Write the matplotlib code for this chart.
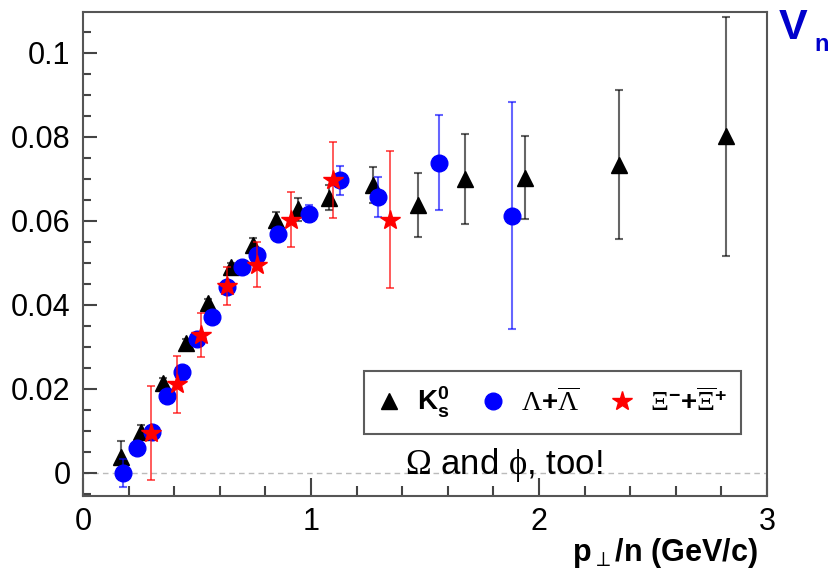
import matplotlib
matplotlib.use("Agg")
import matplotlib.pyplot as plt
from matplotlib.lines import Line2D
from matplotlib.ticker import MultipleLocator

plt.rcParams['font.family'] = ['Liberation Sans', 'DejaVu Sans']
plt.rcParams['mathtext.fontset'] = 'custom'
plt.rcParams['mathtext.rm'] = 'Liberation Serif'
plt.rcParams['mathtext.it'] = 'Liberation Serif:italic'
plt.rcParams['mathtext.bf'] = 'Liberation Sans:bold'
plt.rcParams['mathtext.sf'] = 'Liberation Sans'

# K0s
k_x = [0.165, 0.254, 0.352, 0.452, 0.548, 0.648, 0.744, 0.846, 0.944, 1.08, 1.271, 1.47, 1.677, 1.94, 2.35, 2.822]
k_y = [0.0037, 0.0097, 0.0215, 0.0308, 0.0405, 0.0489, 0.0542, 0.0603, 0.0627, 0.0655, 0.0685, 0.0637, 0.0699, 0.0703, 0.0734, 0.0801]
k_err = [0.004, 0.0018, 0.0012, 0.001, 0.001, 0.001, 0.0016, 0.0019, 0.0027, 0.003, 0.0042, 0.0076, 0.0107, 0.0098, 0.0178, 0.0284]

# Lambda + anti-Lambda
l_x = [0.177, 0.238, 0.301, 0.367, 0.433, 0.499, 0.564, 0.63, 0.699, 0.765, 0.857, 0.991, 1.127, 1.296, 1.563, 1.883]
l_y = [0.0, 0.0059, 0.0097, 0.0184, 0.0241, 0.0318, 0.037, 0.0443, 0.0489, 0.0519, 0.0568, 0.0617, 0.0696, 0.0657, 0.0738, 0.0612]
l_err = [0.0034, 0.001, 0.001, 0.001, 0.001, 0.001, 0.001, 0.001, 0.001, 0.001, 0.001, 0.002, 0.0035, 0.0048, 0.0113, 0.027]

# Xi
x_x = [0.298, 0.414, 0.516, 0.630, 0.765, 0.912, 1.098, 1.348]
x_y = [0.0094, 0.0211, 0.0328, 0.0445, 0.0496, 0.0603, 0.0697, 0.0603]
x_err = [0.0112, 0.0068, 0.0053, 0.0045, 0.0053, 0.0066, 0.009, 0.0163]

fig = plt.figure(figsize=(8.29, 5.81), dpi=100)
ax = fig.add_axes([0.1001, 0.1463, 0.8251, 0.833])

ax.axhline(0, color='#bbbbbb', lw=1, ls=(0, (4, 3)), zorder=0)

ax.errorbar(k_x, k_y, yerr=k_err, fmt='^', color='black', ms=11, mec='black',
            ecolor=(0, 0, 0, 0.6), elinewidth=1.5, capsize=3, capthick=1.5, zorder=3)
ax.errorbar(l_x, l_y, yerr=l_err, fmt='o', color='#0000ff', ms=12, mec='#0000ff',
            ecolor=(0, 0, 1, 0.6), elinewidth=1.5, capsize=3, capthick=1.5, zorder=4)
ax.errorbar(x_x, x_y, yerr=x_err, fmt='*', color='#ff0000', ms=15, mec='#ff0000',
            ecolor=(1, 0, 0, 0.75), elinewidth=1.2, capsize=3, capthick=1.2, zorder=5)

ax.set_xlim(0, 3)
ax.set_ylim(-0.0055, 0.1097)
ax.xaxis.set_minor_locator(MultipleLocator(0.2))
ax.yaxis.set_minor_locator(MultipleLocator(0.005))
ax.set_yticks([0, 0.02, 0.04, 0.06, 0.08, 0.1])
ax.set_yticklabels(['0', '0.02', '0.04', '0.06', '0.08', '0.1'])
ax.set_xticks([0, 1, 2, 3])
ax.set_xticklabels(['0', '1', '2', '3'])
ax.tick_params(which='both', direction='in', top=False, right=False,
               color='#444444', width=1.5, labelsize=22)
ax.tick_params(axis='y', which='major', length=10, pad=9)
ax.tick_params(axis='y', which='minor', length=6)
ax.tick_params(axis='x', which='major', length=13, pad=8)
ax.tick_params(axis='x', which='minor', length=7)
for s in ax.spines.values():
    s.set_color('#555555')
    s.set_linewidth(1.5)

ax.set_xlabel(r'p$_{\perp}$/n (GeV/c)', fontsize=22, fontweight='bold',
              loc='right', math_fontfamily='dejavusans')
ax.xaxis.set_label_coords(0.987, -0.083)
ax.xaxis.label.set_verticalalignment('top')

handles = [
    Line2D([], [], marker='^', ls='none', color='black', ms=11),
    Line2D([], [], marker='o', ls='none', color='#0000ff', ms=12),
    Line2D([], [], marker='*', ls='none', color='#ff0000', ms=15),
]
labels = [r'$\mathbf{K^0_s}$', r'$\mathrm{\Lambda}\mathbf{+}\overline{\mathrm{\Lambda}}$',
          r'$\mathrm{\Xi}^{\mathbf{-}}\mathbf{+}\overline{\mathrm{\Xi}}^{\mathbf{+}}$']
leg = ax.legend(handles, labels, ncol=3, loc='lower left',
                bbox_to_anchor=(0.411, 0.128, 0.551, 0.124), mode='expand',
                fontsize=20, frameon=True, fancybox=False, edgecolor='#333333',
                handlelength=0.8, handletextpad=0.6, columnspacing=1.2,
                borderpad=0.5, borderaxespad=0)
leg.get_frame().set_linewidth(1.5)

ax.text(0.6155, 0.064, r'$\mathrm{\Omega}$ and $\mathrm{\phi}$, too!', transform=ax.transAxes,
        ha='center', va='center', fontsize=25)

fig.text(779 / 829, 1 - 8 / 581, 'V', color='#0000cc', fontsize=31,
         fontweight='bold', ha='left', va='top')
fig.text(814 / 829, 1 - 33 / 581, 'n', color='#0000cc', fontsize=17,
         fontweight='bold', ha='left', va='top')

fig.savefig('out.png', dpi=100)
